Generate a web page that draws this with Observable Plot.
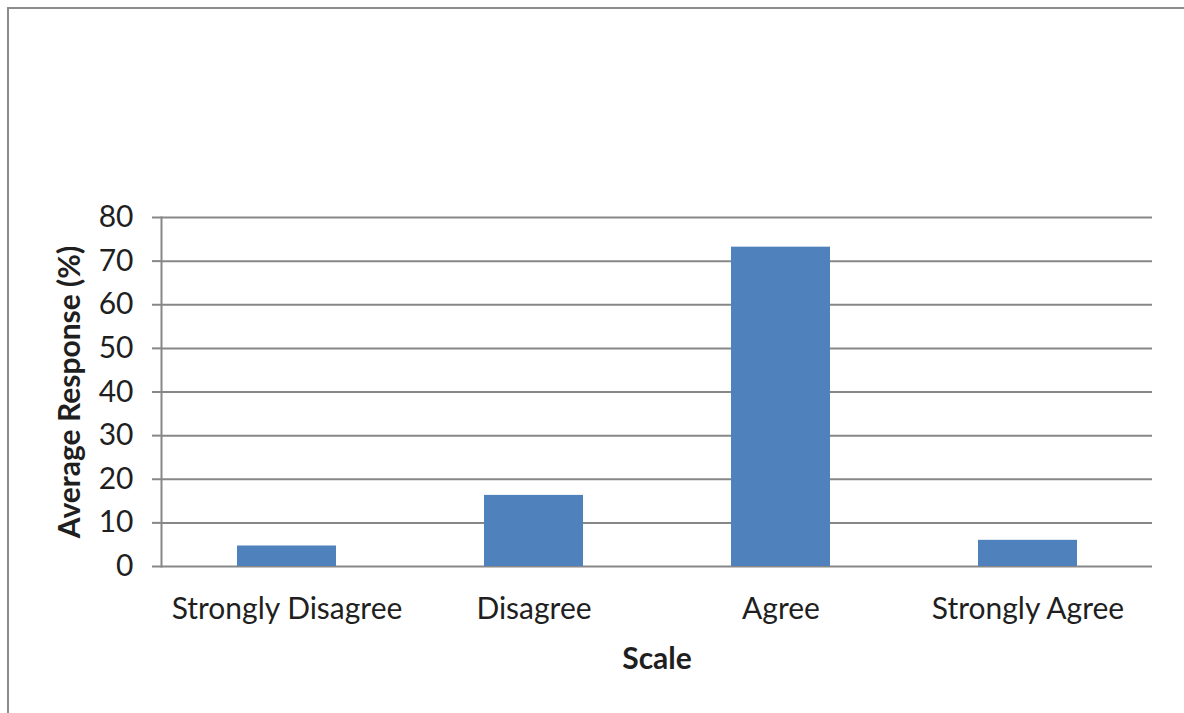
<!DOCTYPE html>
<html>
<head>
<meta charset="utf-8">
<script src="https://cdn.jsdelivr.net/npm/d3@7"></script>
<script src="https://cdn.jsdelivr.net/npm/@observablehq/plot@0.6"></script>
<style>
  html, body { margin: 0; padding: 0; background: #fff; }
  #wrap { position: relative; width: 1184px; height: 713px; overflow: hidden; }
  #border { position: absolute; left: 7px; top: 7px; width: 1200px; height: 800px;
            border-top: 2px solid #8c8c8c; border-left: 2px solid #8c8c8c; pointer-events: none; }
  #chart { position: absolute; left: 0; top: 0; }
</style>
</head>
<body>
<div id="wrap"><div id="chart"></div><div id="border"></div></div>
<script>
const categories = ["Strongly Disagree", "Disagree", "Agree", "Strongly Agree"];
const values = [4.7, 16.3, 73.2, 6.0];
const yTicks = [0, 10, 20, 30, 40, 50, 60, 70, 80];
const xTitle = "Scale";
const yTitle = "Average Response (%)";

const data = categories.map((c, i) => ({category: c, value: values[i]}));
const font = "Lato, 'Open Sans', sans-serif";
const gridColor = "#878787";
const textColor = "#1f1f1f";

const chart = Plot.plot({
  width: 1184,
  height: 713,
  marginLeft: 161,
  marginRight: 32,
  marginTop: 217,
  marginBottom: 147,
  style: {fontFamily: font, fontSize: "30px", color: textColor, background: "transparent"},
  x: {domain: categories, paddingInner: 0.6, paddingOuter: 0.3, label: null},
  y: {domain: [0, 80], label: null},
  marks: [
    Plot.gridY(yTicks, {stroke: gridColor, strokeOpacity: 1, strokeWidth: 2}),
    Plot.barY(data, {x: "category", y: "value", fill: "#4f81bd"}),
    Plot.frame({anchor: "left", stroke: gridColor, strokeWidth: 2}),
    Plot.axisY(yTicks, {tickSize: 9, tickPadding: 19, stroke: gridColor, strokeWidth: 2,
      fontSize: 30, fill: textColor, label: null}),
    Plot.axisX({tickSize: 0, tickPadding: 31, fontSize: 30, fill: textColor, label: null}),
    Plot.text([yTitle], {frameAnchor: "left", dx: -91, rotate: -90, textAnchor: "middle",
      lineAnchor: "middle", fontWeight: "bold", fontSize: 30, fill: textColor}),
    Plot.text([xTitle], {frameAnchor: "bottom", dy: 93, textAnchor: "middle",
      lineAnchor: "middle", fontWeight: "bold", fontSize: 30, fill: textColor})
  ]
});
document.getElementById("chart").appendChild(chart);
</script>
</body>
</html>
